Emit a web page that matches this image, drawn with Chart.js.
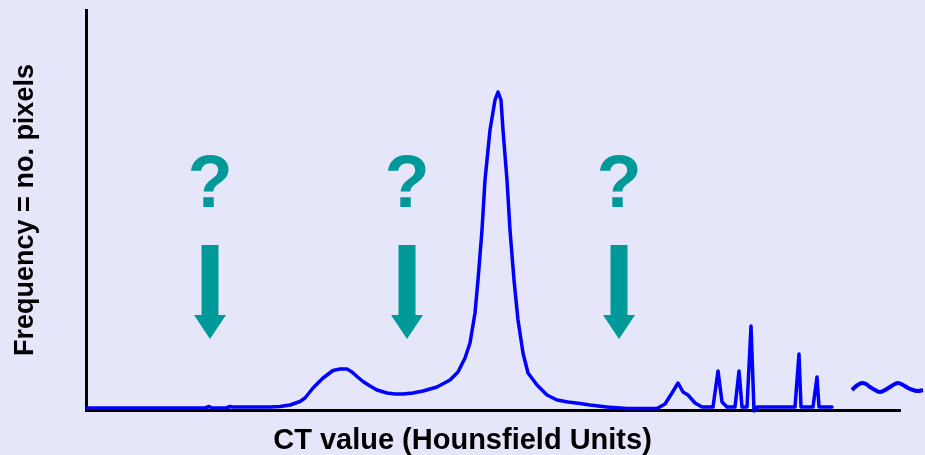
<!DOCTYPE html>
<html>
<head>
<meta charset="utf-8">
<title>CT histogram</title>
<script src="https://cdn.jsdelivr.net/npm/chart.js@4/dist/chart.umd.min.js"></script>
<style>
  html, body { margin: 0; padding: 0; background: #E6E6FA; }
  canvas { display: block; }
</style>
</head>
<body>
<canvas id="histChart" width="925" height="455"></canvas>
<script>
// CT value bins (arbitrary units along the axis) and pixel counts per bin
const ctValues = [1, 64, 119, 123, 126, 140, 144, 147, 184, 194, 204, 214, 219, 227, 237, 247, 254, 261, 266, 271,
  277, 284, 291, 301, 309, 317, 327, 337, 351, 364, 372, 379, 384, 389, 392, 396, 399, 404, 409, 412,
  415, 417, 421, 424, 428, 432, 437, 442, 451, 461, 471, 482, 494, 504, 521, 541, 571, 579, 586, 592,
  597, 602, 609, 616, 627, 632, 636, 641, 649, 653, 656, 661, 665, 668, 671, 709, 713, 715, 727, 731,
  733, 746];
const pixelCounts = [2, 2, 2, 3.5, 2, 2, 3.5, 3, 3, 3.5, 5, 8.5, 12, 22, 32, 39.5, 41, 41, 38, 33.5,
  28.5, 24, 20, 17, 16, 16, 17, 19, 23, 30, 38, 52, 67, 97, 130, 180, 230, 280, 310, 318,
  310, 280, 230, 180, 130, 90, 57, 37, 25, 15, 10, 8, 6.5, 5, 3, 1.5, 1.5, 6, 17, 27,
  18, 15, 7, 3, 3, 39, 8, 3, 3, 39, 3, 3, 84, -1, 3, 3, 56, 3, 3, 33,
  3, 3];

// wavy "and so on" tail that runs past the end of the axis
const tailValues = [766, 771, 776, 780, 784, 789, 794, 799, 804, 808, 812, 817, 822, 827, 832, 837];
const tailCounts = [20, 24.5, 27, 26, 23, 20, 18, 20, 23, 25.5, 27, 25, 22, 20, 19, 20];

// gaps between the peaks that get a "?" and an arrow
const gapMarks = [124, 321, 533];

const axisMax = 814;
const countMax = 400;

const teal = '#009999';
const blue = '#0000FF';
const labelFont = '"Liberation Sans", Arial, sans-serif';

function toPoints(xs, ys) {
  return xs.map((x, i) => ({ x: x, y: ys[i] }));
}

const backgroundPlugin = {
  id: 'bg',
  beforeDraw(chart) {
    const ctx = chart.ctx;
    ctx.save();
    ctx.fillStyle = '#E6E6FA';
    ctx.fillRect(0, 0, chart.width, chart.height);
    ctx.restore();
  }
};

// question marks and arrows over the gaps
const gapPlugin = {
  id: 'gaps',
  afterDatasetsDraw(chart) {
    const ctx = chart.ctx;
    const xs = chart.scales.x;
    const ys = chart.scales.y;
    ctx.save();
    ctx.fillStyle = teal;
    gapMarks.forEach(function(v) {
      const cx = xs.getPixelForValue(v);
      const shaftTop = ys.getPixelForValue(165);
      const headTop = ys.getPixelForValue(95);
      const tip = ys.getPixelForValue(71);

      ctx.font = 'bold 74px ' + labelFont;
      ctx.textAlign = 'center';
      ctx.textBaseline = 'alphabetic';
      ctx.fillText('?', cx, ys.getPixelForValue(203));

      ctx.fillRect(cx - 8.5, shaftTop, 17, headTop - shaftTop);
      ctx.beginPath();
      ctx.moveTo(cx - 16, headTop);
      ctx.lineTo(cx + 16, headTop);
      ctx.lineTo(cx, tip);
      ctx.closePath();
      ctx.fill();
    });
    ctx.restore();
  }
};

const ctx = document.getElementById('histChart').getContext('2d');

const histChart = new Chart(ctx, {
  type: 'line',
  data: {
    datasets: [
      {
        label: 'Frequency',
        data: toPoints(ctValues, pixelCounts),
        borderColor: blue,
        borderWidth: 3.5,
        borderJoinStyle: 'round',
        borderCapStyle: 'round',
        pointRadius: 0,
        tension: 0,
        fill: false,
        clip: false
      },
      {
        label: 'tail',
        data: toPoints(tailValues, tailCounts),
        xAxisID: 'xTail',
        borderColor: blue,
        borderWidth: 4,
        borderJoinStyle: 'round',
        pointRadius: 0,
        tension: 0.4,
        fill: false,
        clip: false
      }
    ]
  },
  options: {
    responsive: false,
    animation: false,
    layout: {
      padding: { left: 0, right: 0, top: 10, bottom: 0 }
    },
    plugins: {
      legend: { display: false },
      tooltip: { enabled: false },
      title: {
        display: true,
        position: 'bottom',
        text: 'CT value (Hounsfield Units)',
        color: '#000000',
        font: { family: labelFont, size: 29, weight: 'bold', lineHeight: 1 },
        padding: { top: 16, bottom: 0 }
      }
    },
    scales: {
      x: {
        type: 'linear',
        min: 0,
        max: axisMax,
        grid: { display: false, drawTicks: false },
        ticks: { display: false },
        border: { display: true, color: '#000000', width: 3 }
      },
      // same mapping as x, but without hard limits so the tail is not cut at the axis end
      xTail: {
        type: 'linear',
        display: false,
        bounds: 'data',
        afterDataLimits(scale) {
          scale.min = 0;
          scale.max = axisMax;
        }
      },
      y: {
        type: 'linear',
        min: 0,
        max: countMax,
        grid: { display: false, drawTicks: false },
        ticks: { display: false },
        border: { display: true, color: '#000000', width: 3 },
        title: {
          display: true,
          text: 'Frequency = no. pixels',
          color: '#000000',
          font: { family: labelFont, size: 27, weight: 'bold', lineHeight: 1 },
          padding: { top: 12.5, bottom: 46.5 }
        }
      },
      // empty strip on the right where the wavy tail runs out
      yPad: {
        type: 'linear',
        position: 'right',
        grid: { display: false, drawTicks: false },
        ticks: { display: false },
        border: { display: false },
        afterFit(scale) {
          scale.width = 25;
        }
      }
    }
  },
  plugins: [backgroundPlugin, gapPlugin]
});
</script>
</body>
</html>
